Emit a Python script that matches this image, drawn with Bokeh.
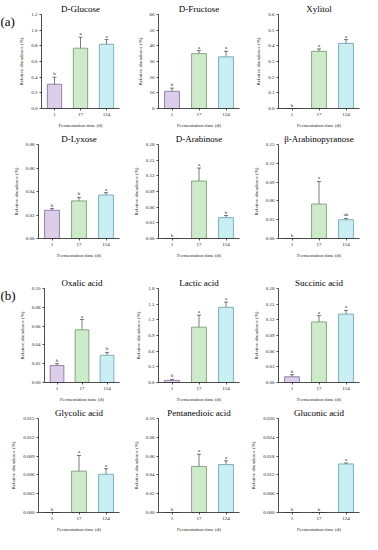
from bokeh.plotting import figure
from bokeh.layouts import column, row
from bokeh.models import (FixedTicker, Whisker, TeeHead, ColumnDataSource,
                          Spacer, FactorRange, Range1d)
from bokeh.core.properties import value
from bokeh.embed import file_html
from bokeh.resources import INLINE

# ---------------- data ----------------
times = ["1", "17", "124"]
bar_colors = ["#dccdea", "#cdebc9", "#c9eef3"]
edge_colors = ["#7d6a96", "#6f946b", "#6a9ea8"]
section_tags = ["(a)", "(b)"]

glucose_mean = [0.31, 0.77, 0.82]
glucose_sd = [0.09, 0.14, 0.06]
glucose_sig = ["b", "a", "a"]
glucose_ticks = [0.0, 0.2, 0.4, 0.6, 0.8, 1.0, 1.2]
glucose_labels = ["0.0", "0.2", "0.4", "0.6", "0.8", "1.0", "1.2"]

fructose_mean = [11.0, 35.0, 33.0]
fructose_sd = [2.0, 2.0, 3.5]
fructose_sig = ["b", "a", "a"]
fructose_ticks = [0, 10, 20, 30, 40, 50, 60]
fructose_labels = ["0", "10", "20", "30", "40", "50", "60"]

xylitol_mean = [0.0, 0.365, 0.415]
xylitol_sd = [0.0, 0.015, 0.025]
xylitol_sig = ["b", "a", "a"]
xylitol_ticks = [0.0, 0.1, 0.2, 0.3, 0.4, 0.5, 0.6]
xylitol_labels = ["0.0", "0.1", "0.2", "0.3", "0.4", "0.5", "0.6"]

lyxose_mean = [0.024, 0.032, 0.037]
lyxose_sd = [0.0015, 0.003, 0.002]
lyxose_sig = ["b", "b", "a"]
lyxose_ticks = [0.0, 0.02, 0.04, 0.06, 0.08]
lyxose_labels = ["0.00", "0.02", "0.04", "0.06", "0.08"]

arabinose_mean = [0.0, 0.110, 0.040]
arabinose_sd = [0.0, 0.025, 0.004]
arabinose_sig = ["b", "a", "b"]
arabinose_ticks = [0.0, 0.03, 0.06, 0.09, 0.12, 0.15, 0.18]
arabinose_labels = ["0.00", "0.03", "0.06", "0.09", "0.12", "0.15", "0.18"]

arabinopyranose_mean = [0.0, 0.055, 0.030]
arabinopyranose_sd = [0.0, 0.036, 0.002]
arabinopyranose_sig = ["b", "a", "ab"]
arabinopyranose_ticks = [0.0, 0.03, 0.06, 0.09, 0.12, 0.15]
arabinopyranose_labels = ["0.00", "0.03", "0.06", "0.09", "0.12", "0.15"]

oxalic_mean = [0.018, 0.056, 0.029]
oxalic_sd = [0.002, 0.011, 0.003]
oxalic_sig = ["b", "a", "b"]
oxalic_ticks = [0.0, 0.02, 0.04, 0.06, 0.08, 0.10]
oxalic_labels = ["0.00", "0.02", "0.04", "0.06", "0.08", "0.10"]

lactic_mean = [0.04, 1.06, 1.44]
lactic_sd = [0.02, 0.23, 0.10]
lactic_sig = ["b", "a", "a"]
lactic_ticks = [0.0, 0.3, 0.6, 0.9, 1.2, 1.5, 1.8]
lactic_labels = ["0.0", "0.3", "0.6", "0.9", "1.2", "1.5", "1.8"]

succinic_mean = [0.011, 0.116, 0.131]
succinic_sd = [0.004, 0.012, 0.007]
succinic_sig = ["b", "a", "a"]
succinic_ticks = [0.0, 0.03, 0.06, 0.09, 0.12, 0.15, 0.18]
succinic_labels = ["0.00", "0.03", "0.06", "0.09", "0.12", "0.15", "0.18"]

glycolic_mean = [0.0, 0.0066, 0.0061]
glycolic_sd = [0.0, 0.0025, 0.0009]
glycolic_sig = ["b", "a", "a"]
glycolic_ticks = [0.0, 0.003, 0.006, 0.009, 0.012, 0.015]
glycolic_labels = ["0.000", "0.003", "0.006", "0.009", "0.012", "0.015"]

pentanedioic_mean = [0.0, 0.049, 0.051]
pentanedioic_sd = [0.0, 0.013, 0.004]
pentanedioic_sig = ["b", "a", "a"]
pentanedioic_ticks = [0.0, 0.02, 0.04, 0.06, 0.08, 0.10]
pentanedioic_labels = ["0.00", "0.02", "0.04", "0.06", "0.08", "0.10"]

gluconic_mean = [0.0, 0.0, 0.0155]
gluconic_sd = [0.0, 0.0, 0.0003]
gluconic_sig = ["b", "b", "a"]
gluconic_ticks = [0.0, 0.006, 0.012, 0.018, 0.024, 0.030]
gluconic_labels = ["0.000", "0.006", "0.012", "0.018", "0.024", "0.030"]

FONT = "Liberation Serif"
W, H = 120, 130
TAG_W = 16
INK = "#222222"


def make_panel(title, mean, sd, sig, ticks, labels, width=W, left=38):
    p = figure(x_range=FactorRange(*times), y_range=(ticks[0], ticks[-1]),
               width=width, height=H, title=title,
               output_backend="svg", toolbar_location=None)
    p.min_border_left = left
    p.min_border_right = 1
    p.min_border_top = 14
    p.min_border_bottom = 20
    p.outline_line_color = None
    p.xgrid.grid_line_color = None
    p.ygrid.grid_line_color = None
    p.background_fill_color = "white"

    src = ColumnDataSource(dict(t=times, m=mean, c=bar_colors, lc=edge_colors))
    p.vbar(x="t", top="m", width=0.55, source=src, fill_color="c",
           line_color="lc", line_width=0.8)

    et = [t for t, s in zip(times, sd) if s > 0]
    eu = [m + s for m, s in zip(mean, sd) if s > 0]
    el = [m - s for m, s in zip(mean, sd) if s > 0]
    esrc = ColumnDataSource(dict(t=et, u=eu, l=el))
    w = Whisker(base="t", upper="u", lower="l", source=esrc,
                line_color=INK, line_width=0.6,
                upper_head=TeeHead(size=4, line_color=INK, line_width=0.6),
                lower_head=TeeHead(size=4, line_color=INK, line_width=0.6))
    p.add_layout(w)

    tsrc = ColumnDataSource(dict(t=times, y=[m + s for m, s in zip(mean, sd)], s=sig))
    p.text(x="t", y="y", text="s", source=tsrc, text_align="center",
           text_baseline="bottom", y_offset=-1, text_font=value(FONT),
           text_font_size="5px", text_color=INK)

    p.yaxis.ticker = FixedTicker(ticks=ticks)
    p.yaxis.major_label_overrides = {t: l for t, l in zip(ticks, labels)}
    p.yaxis.minor_tick_line_color = None
    for ax in (p.xaxis[0], p.yaxis[0]):
        ax.major_label_text_font = FONT
        ax.major_label_text_font_size = "5px"
        ax.major_label_text_color = INK
        ax.axis_label_text_font = FONT
        ax.axis_label_text_font_size = "5px"
        ax.axis_label_text_font_style = "normal"
        ax.axis_label_text_color = INK
        ax.axis_line_color = INK
        ax.major_tick_line_color = INK
        ax.axis_line_width = 0.8
        ax.major_tick_line_width = 0.8
        ax.major_tick_out = 2
        ax.major_tick_in = 0
        ax.major_label_standoff = 2
        ax.axis_label_standoff = 4
    p.xaxis.axis_label = "Fermentation time (d)"
    p.yaxis.axis_label = "Relative abundance (%)"

    p.title.text_font = FONT
    p.title.text_font_size = "9px"
    p.title.text_font_style = "normal"
    p.title.text_color = "#000000"
    p.title.align = "center"
    p.title.standoff = 1
    return p


def make_tag(tag):
    t = figure(width=TAG_W, height=H, x_range=Range1d(0, 1), y_range=Range1d(0, 1),
               output_backend="svg", toolbar_location=None)
    t.axis.visible = False
    t.grid.grid_line_color = None
    t.outline_line_color = None
    t.min_border = 0
    t.min_border_left = 0
    t.min_border_right = 0
    t.min_border_top = 0
    t.min_border_bottom = 0
    t.text(x=[0], y=[1], text=[tag], text_font=value(FONT), text_font_size="13px",
           text_align="left", text_baseline="top", y_offset=-1, text_color="#000000")
    return t


r1 = row(
    row(make_tag(section_tags[0]),
        make_panel("D-Glucose", glucose_mean, glucose_sd, glucose_sig, glucose_ticks,
                   glucose_labels, width=W - TAG_W, left=38 - TAG_W)),
    make_panel("D-Fructose", fructose_mean, fructose_sd, fructose_sig, fructose_ticks, fructose_labels),
    make_panel("Xylitol", xylitol_mean, xylitol_sd, xylitol_sig, xylitol_ticks, xylitol_labels),
)
r2 = row(
    make_panel("D-Lyxose", lyxose_mean, lyxose_sd, lyxose_sig, lyxose_ticks, lyxose_labels),
    make_panel("D-Arabinose", arabinose_mean, arabinose_sd, arabinose_sig, arabinose_ticks, arabinose_labels),
    make_panel("β-Arabinopyranose", arabinopyranose_mean, arabinopyranose_sd, arabinopyranose_sig,
               arabinopyranose_ticks, arabinopyranose_labels),
)
r3 = row(
    row(make_tag(section_tags[1]),
        make_panel("Oxalic acid", oxalic_mean, oxalic_sd, oxalic_sig, oxalic_ticks,
                   oxalic_labels, width=W - TAG_W, left=38 - TAG_W)),
    make_panel("Lactic acid", lactic_mean, lactic_sd, lactic_sig, lactic_ticks, lactic_labels),
    make_panel("Succinic acid", succinic_mean, succinic_sd, succinic_sig, succinic_ticks, succinic_labels),
)
r4 = row(
    make_panel("Glycolic acid", glycolic_mean, glycolic_sd, glycolic_sig, glycolic_ticks, glycolic_labels),
    make_panel("Pentanedioic acid", pentanedioic_mean, pentanedioic_sd, pentanedioic_sig,
               pentanedioic_ticks, pentanedioic_labels),
    make_panel("Gluconic acid", gluconic_mean, gluconic_sd, gluconic_sig, gluconic_ticks, gluconic_labels),
)

p = column(r1, r2, Spacer(width=10, height=14), r3, r4)

open("out.html", "w").write(file_html(p, INLINE))
